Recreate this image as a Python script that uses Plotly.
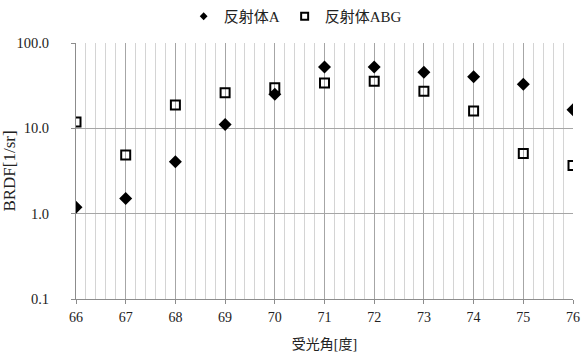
import plotly.graph_objects as go

# Receiving angle [deg]
angles = [66, 67, 68, 69, 70, 71, 72, 73, 74, 75, 76]
# BRDF [1/sr]
brdf_a = [1.19, 1.51, 4.06, 11.1, 25.1, 52.4, 52.4, 45.4, 40.3, 32.9, 16.5]
brdf_abg = [11.9, 4.86, 18.8, 26.2, 29.8, 34.0, 35.7, 27.2, 16.0, 5.07, 3.67]

name_a = "反射体A"
name_abg = "反射体ABG"

font_family = "Liberation Serif, Noto Sans CJK JP, serif"

fig = go.Figure()
fig.add_trace(go.Scatter(
    x=angles, y=brdf_a, mode="markers", name=name_a, showlegend=False,
    marker=dict(symbol="diamond", size=10, color="black", line=dict(width=0)),
))
fig.add_trace(go.Scatter(
    x=angles, y=brdf_abg, mode="markers", name=name_abg, showlegend=False,
    marker=dict(symbol="square-open", size=9, color="black",
                line=dict(width=2, color="black")),
))
# legend entries with smaller symbols
fig.add_trace(go.Scatter(
    x=[None], y=[None], mode="markers", name=name_a,
    marker=dict(symbol="diamond", size=6, color="black", line=dict(width=0)),
))
fig.add_trace(go.Scatter(
    x=[None], y=[None], mode="markers", name=name_abg,
    marker=dict(symbol="square-open", size=7, color="black",
                line=dict(width=2, color="black")),
))

fig.update_layout(
    width=583, height=352,
    margin=dict(l=76, r=10, t=43, b=53, autoexpand=False),
    paper_bgcolor="white", plot_bgcolor="white",
    font=dict(family=font_family, size=14, color="#222"),
    showlegend=True,
    legend=dict(orientation="h", x=0.315, xanchor="left", xref="container",
                y=1.0, yanchor="top", yref="container",
                font=dict(size=15), itemwidth=30, tracegroupgap=0,
                bgcolor="rgba(0,0,0,0)"),
    xaxis=dict(
        range=[66, 76], dtick=1, tick0=66, automargin=False,
        showgrid=True, gridcolor="#a6a6a6", gridwidth=1,
        showline=True, linecolor="#8c8c8c", linewidth=1,
        ticks="outside", ticklen=4, tickcolor="#8c8c8c",
        ticklabelstandoff=1,
        minor=dict(dtick=0.2, showgrid=True, gridcolor="#d4d4d4", gridwidth=1),
        title=dict(text="受光角[度]", font=dict(size=14), standoff=19),
        zeroline=False,
    ),
    yaxis=dict(
        type="log", range=[-1, 2], dtick=1, tickformat=".1f", automargin=False,
        showgrid=True, gridcolor="#a6a6a6", gridwidth=1,
        showline=True, linecolor="#8c8c8c", linewidth=1,
        ticks="outside", ticklen=4, tickcolor="#8c8c8c",
        ticklabelstandoff=19,
        tickfont=dict(size=14.5),
        title=dict(text="BRDF[1/sr]", font=dict(size=17), standoff=0),
        zeroline=False,
    ),
)

fig.write_html("out.html")
